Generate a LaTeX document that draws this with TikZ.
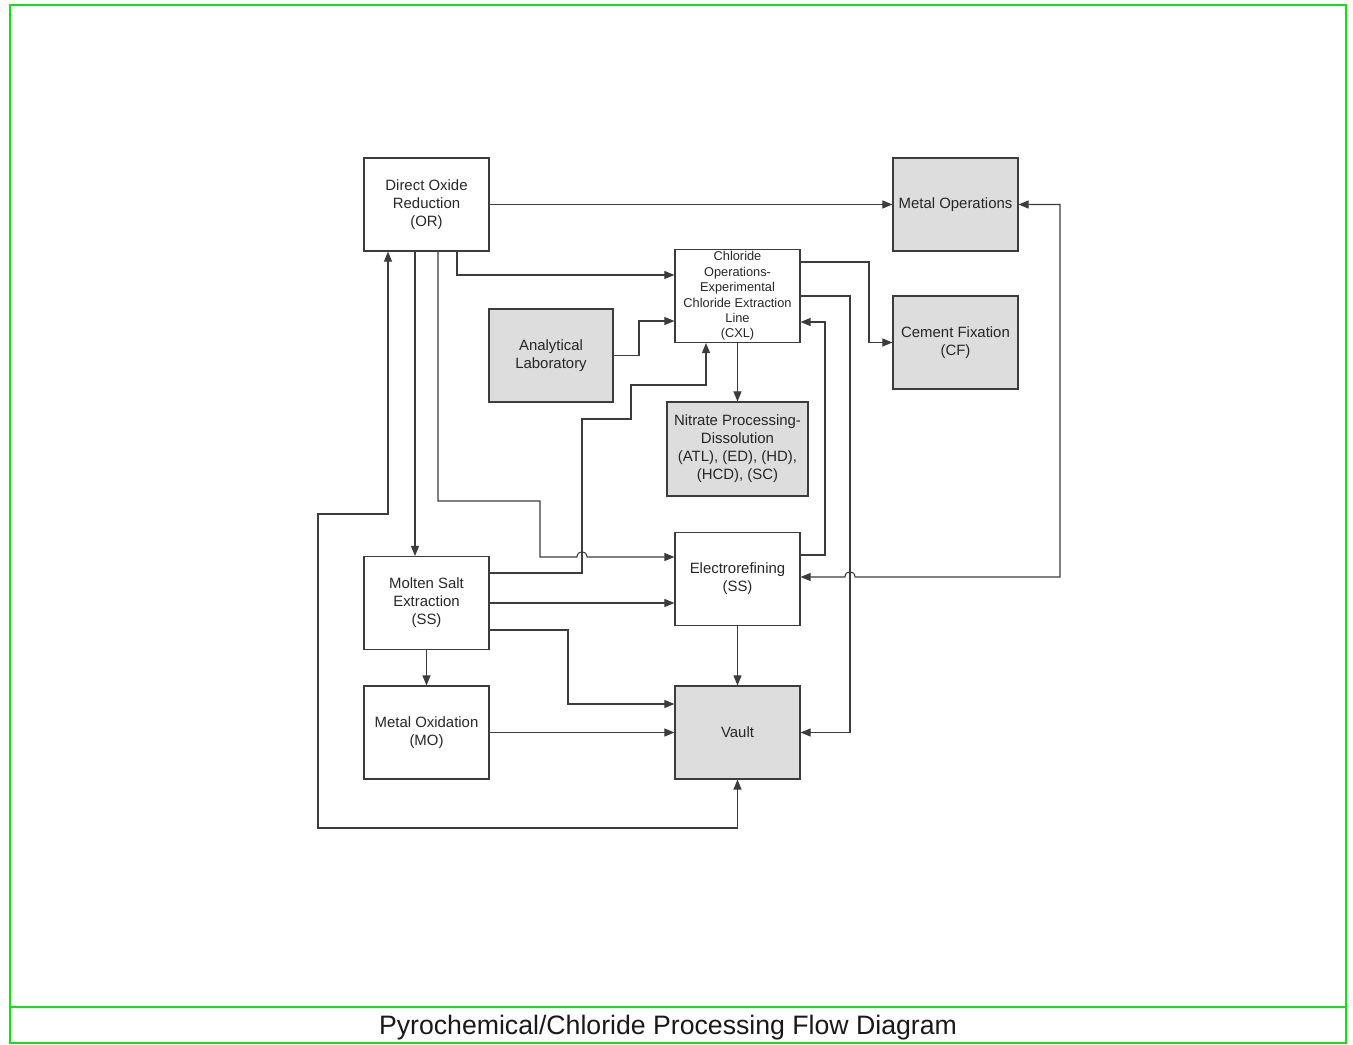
\documentclass[tikz,border=0pt]{standalone}
\usepackage{fontspec}
\setmainfont{Liberation Sans}
\usetikzlibrary{arrows.meta,calc}
\definecolor{framegreen}{RGB}{20,225,20}
\definecolor{boxgray}{RGB}{221,221,221}
\definecolor{ln}{RGB}{60,60,60}
\begin{document}
\begin{tikzpicture}[x=0.75pt,y=-0.75pt,
  box/.style={draw=ln,line width=0.85pt,minimum width=93.75pt,minimum height=69.75pt,inner sep=0pt,align=center,font=\fontsize{11.2}{13.5}\selectfont,text=black!85},
  graybox/.style={box,fill=boxgray},
  link/.style={draw=ln,line width=0.8pt},
  arr/.style={link,-{Triangle[length=7.5pt,width=6pt]}},
  barr/.style={link,{Triangle[length=7.5pt,width=6pt]}-{Triangle[length=7.5pt,width=6pt]}},
  frameline/.style={draw=framegreen,line width=2.2pt}]
\useasboundingbox (0,0) rectangle (1353,1045);
% frame
\draw[frameline] (10,5) rectangle (1346,1043);
\draw[frameline] (10,1007) -- (1346,1007);
\node[font=\fontsize{20}{24}\selectfont,text=black!90] (title) at (668,1028) {Pyrochemical/Chloride Processing Flow Diagram};
% boxes
\node[box] (OR) at (426.5,204.5) {Direct Oxide\\Reduction\\(OR)};
\node[graybox] (MetOps) at (955.5,204.5) {Metal Operations};
\node[box,font=\fontsize{9.6}{11.6}\selectfont] (CXL) at (737.5,296) {Chloride\\Operations-\\Experimental\\Chloride Extraction\\Line\\(CXL)};
\node[graybox] (CF) at (955.5,342.5) {Cement Fixation\\(CF)};
\node[graybox,minimum width=93pt] (Lab) at (551,355.5) {Analytical\\Laboratory};
\node[graybox,minimum width=105.75pt,minimum height=70.5pt] (NP) at (737.5,449) {Nitrate Processing-\\Dissolution\\(ATL), (ED), (HD),\\(HCD), (SC)};
\node[box] (ER) at (737.5,579) {Electrorefining\\(SS)};
\node[box] (MSE) at (426.5,603) {Molten Salt\\Extraction\\(SS)};
\node[box] (MO) at (426.5,732.5) {Metal Oxidation\\(MO)};
\node[graybox] (Vault) at (737.5,732.5) {Vault};
% connectors
\draw[arr] (OR.east) -- (MetOps.west);
\draw[arr] ($(OR.south)+(30.5,0)$) |- ($(CXL.west)+(0,-21)$);
\draw[arr] (Lab.east) -| (639,321) -- ($(CXL.west)+(0,25)$);
\draw[arr] (CXL.south) -- (NP.north);
\draw[arr] ($(CXL.east)+(0,-34)$) -| (869,342.5) -- (CF.west);
\draw[arr] (CXL.east) -| (850,732.5) -- (Vault.east);
\draw[arr] ($(ER.east)+(0,-24)$) -| (825,322) -- ($(CXL.east)+(0,26)$);
\draw[barr] (MetOps.east) -- (1060,204.5) -- (1060,577) -- (855,577) .. controls (855,570) and (845,570) .. (845,577) -- ($(ER.east)+(0,-2)$);
\draw[arr] ($(OR.south)+(-11.5,0)$) -- ($(MSE.north)+(-11.5,0)$);
\draw[arr] ($(OR.south)+(11.5,0)$) |- (540,501) |- (577,557) .. controls (577,550) and (587,550) .. (587,557) -- ($(ER.west)+(0,-22)$);
\draw[barr] ($(OR.south)+(-38.5,0)$) -- (388,514) -- (318,514) -- (318,828) -| (Vault.south);
\draw[arr] ($(MSE.east)+(0,-30)$) -| (582,419) -| (631,385) -| ($(CXL.south)+(-31.5,0)$);
\draw[arr] (MSE.east) -- ($(ER.west)+(0,24)$);
\draw[arr] ($(MSE.east)+(0,27)$) -| (568,704) -- ($(Vault.west)+(0,-28.5)$);
\draw[arr] (MSE.south) -- (MO.north);
\draw[arr] (MO.east) -- (Vault.west);
\draw[arr] (ER.south) -- (Vault.north);
\end{tikzpicture}
\end{document}
